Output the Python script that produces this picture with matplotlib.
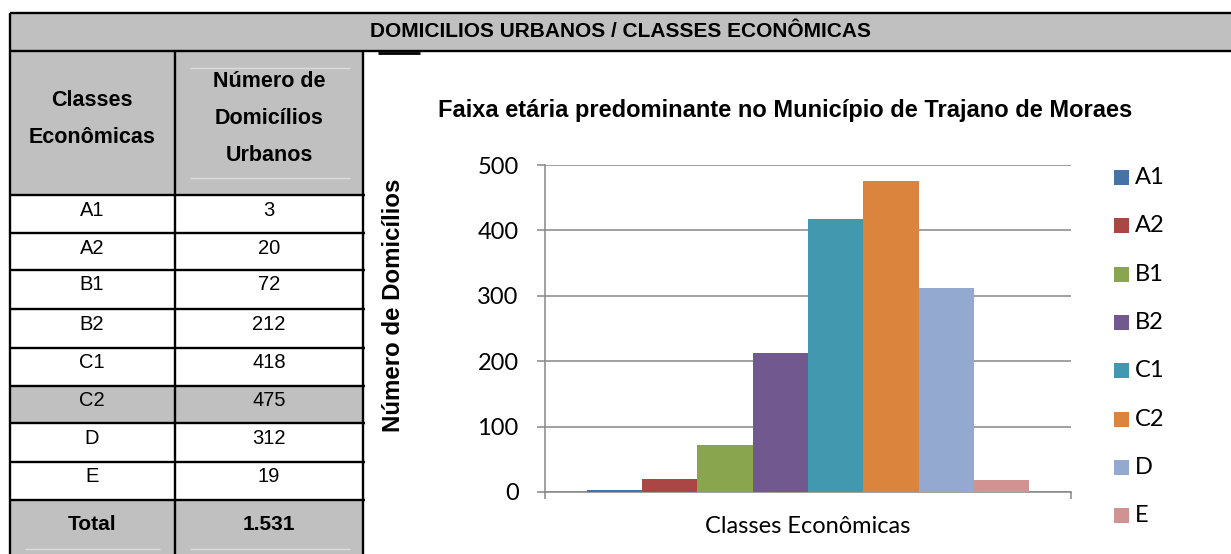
import matplotlib
matplotlib.use('Agg')
import matplotlib.pyplot as plt
from matplotlib.patches import Rectangle
from matplotlib.lines import Line2D

classes = ['A1', 'A2', 'B1', 'B2', 'C1', 'C2', 'D', 'E']
domicilios = [3, 20, 72, 212, 418, 475, 312, 19]
total_txt = '1.531'
cores = ['#4572A7', '#AA4643', '#89A54E', '#71588F', '#4198AF', '#DB843D', '#93A9CF', '#D19392']
yticks = [0, 100, 200, 300, 400, 500]
destaque = 'C2'

W, H = 1231, 554
fig = plt.figure(figsize=(W / 100, H / 100), dpi=100)

cinza = '#C0C0C0'
grade = '#868686'
arial = 'Liberation Sans'
calibri = 'Lato'


def fx(x):
    return x / W


def fy(y):
    return 1 - y / H


def caixa(x0, y0, x1, y1, cor):
    fig.add_artist(Rectangle((fx(x0), fy(y1)), fx(x1) - fx(x0), fy(y0) - fy(y1),
                             transform=fig.transFigure, facecolor=cor,
                             edgecolor='none', zorder=0))


def linha(x0, y0, x1, y1, cor='black', lw=1.7):
    fig.add_artist(Line2D([fx(x0), fx(x1)], [fy(y0), fy(y1)], transform=fig.transFigure,
                          color=cor, lw=lw, zorder=2, solid_capstyle='butt'))


def texto(x, y, s, size, bold=False, family=arial, **kw):
    kw.setdefault('ha', 'center')
    kw.setdefault('va', 'baseline')
    fig.text(fx(x), fy(y), s, fontsize=size, fontweight='bold' if bold else 'normal',
             family=family, **kw)


# ---- tabela ----
tops = [195, 233, 270, 309, 348, 386, 423, 462, 500]
caixa(10, 13, W, 51, cinza)
caixa(10, 51, 363, 195, cinza)
caixa(10, 500, 363, H, cinza)
for i, c in enumerate(classes):
    if c == destaque:
        caixa(10, tops[i], 363, tops[i + 1], cinza)

linha(10, 13, W, 13)
linha(10, 51, W, 51)
linha(378, 52.5, 420, 52.5, lw=2)
linha(10, 13, 10, H)
linha(175, 51, 175, H)
linha(363, 51, 363, H)
for t in tops:
    linha(10, t, 365, t)

claro = '#dcdcdc'
linha(190, 68, 350, 68, cor=claro, lw=1)
linha(190, 178, 350, 178, cor=claro, lw=1)
linha(25, 549, 160, 549, cor=claro, lw=1)
linha(190, 549, 350, 549, cor=claro, lw=1)

texto(621, 37, 'DOMICILIOS URBANOS / CLASSES ECONÔMICAS', 15, bold=True)
texto(92, 106, 'Classes', 15.5, bold=True)
texto(92, 143, 'Econômicas', 15.5, bold=True)
texto(269, 87, 'Número de', 15.5, bold=True)
texto(269, 124, 'Domicílios', 15.5, bold=True)
texto(269, 161, 'Urbanos', 15.5, bold=True)

for i, (c, v) in enumerate(zip(classes, domicilios)):
    texto(92, tops[i] + 20.5, c, 14.5)
    texto(269, tops[i] + 20.5, str(v), 14.5)
texto(92, 530, 'Total', 15, bold=True)
texto(269, 530, total_txt, 15, bold=True)

# ---- grafico ----
ax = fig.add_axes([fx(545), fy(492), fx(1071) - fx(545), fy(165) - fy(492)])
x = list(range(len(classes)))
ax.bar(x, domicilios, width=1.0, color=cores, zorder=3)
gap = 0.76
ax.set_xlim(-0.5 - gap, len(classes) - 0.5 + gap)
ax.set_ylim(0, 500)
ax.set_yticks(yticks)
ax.set_xticks([-0.5 - gap, len(classes) - 0.5 + gap])
ax.set_xticklabels([])
ax.yaxis.grid(True, color=grade, lw=1.1)
ax.set_axisbelow(True)
for s in ['top', 'right']:
    ax.spines[s].set_visible(False)
for s in ['left', 'bottom']:
    ax.spines[s].set_color(grade)
    ax.spines[s].set_linewidth(1.1)
ax.tick_params(axis='y', length=6, width=1.1, color=grade, labelsize=17, pad=13)
ax.tick_params(axis='x', length=5, width=1.1, color=grade)
for lb in ax.get_yticklabels():
    lb.set_family(calibri)

texto(785, 117, 'Faixa etária predominante no Município de Trajano de Moraes', 17, bold=True)
texto(393, 305, 'Número de Domicílios', 17.3, bold=True, rotation=90, va='center')
texto(808, 533, 'Classes Econômicas', 17, family=calibri)

# legenda
for i, (c, cor) in enumerate(zip(classes, cores)):
    yc = 177.5 + 48.3 * i
    caixa(1114, yc - 7.5, 1129, yc + 7.5, cor)
    texto(1135, yc, c, 17, family=calibri, ha='left', va='center')

fig.savefig('out.png', dpi=100)
